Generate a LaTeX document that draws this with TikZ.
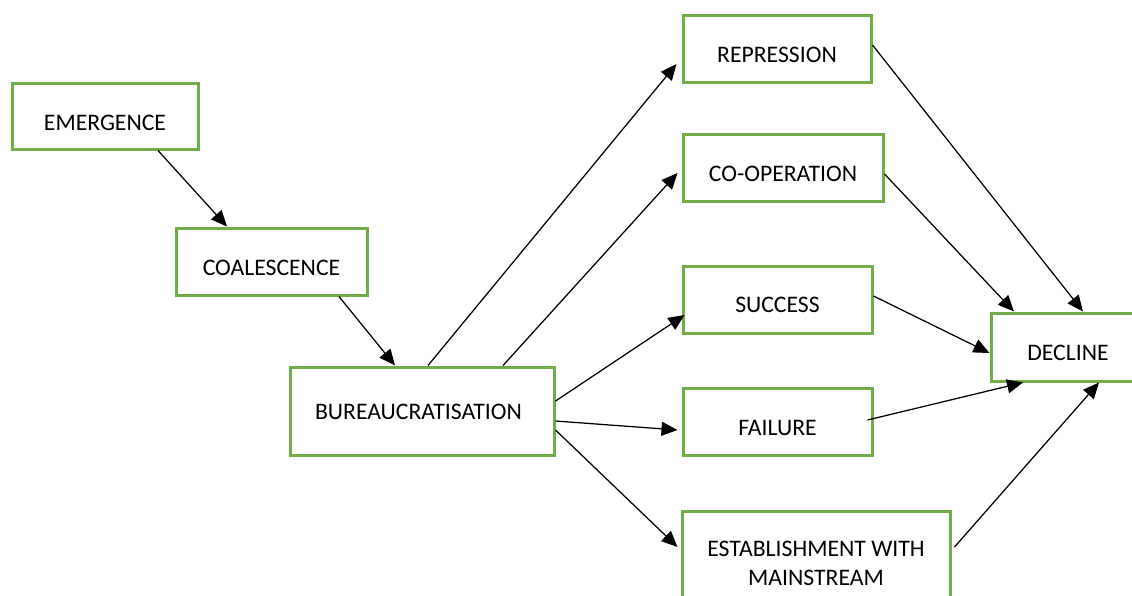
\documentclass[tikz,border=0pt]{standalone}
\usepackage{fontspec}
\setmainfont{Carlito}
\usetikzlibrary{arrows.meta}
\definecolor{boxgreen}{HTML}{70AD47}
\begin{document}
\begin{tikzpicture}[x=1pt,y=-1pt,
  box/.style={draw=boxgreen, line width=3pt, fill=white, rectangle,
    inner sep=0pt, font=\fontsize{23.7}{29}\selectfont},
  capline/.style={text height=#1, text depth=0pt},
  flow/.style={-{Triangle[length=16pt,width=14pt]}, line width=1.25pt, black}]
\useasboundingbox (0,0) rectangle (1132,595);
\clip (0,0) rectangle (1132,595);

% stages of the movement life cycle
\node[box, capline=29pt, minimum width=186pt, minimum height=66pt] (em) at (105,116) {EMERGENCE};
\node[box, capline=28pt, minimum width=191pt, minimum height=67pt] (co) at (271.5,261.5) {COALESCENCE};
\node[box, capline=17pt, minimum width=264pt, minimum height=88pt] (bu) at (422,411) {BUREAUCRATISATION\hspace*{7pt}};

% possible outcomes
\node[box, capline=28pt, minimum width=188pt, minimum height=67pt] (rep) at (777,48.5) {REPRESSION};
\node[box, capline=28pt, minimum width=200pt, minimum height=67pt] (coop) at (783,167.5) {CO-OPERATION};
\node[box, capline=26pt, minimum width=189pt, minimum height=67pt] (suc) at (777.5,299.5) {SUCCESS};
\node[box, capline=28pt, minimum width=189pt, minimum height=67pt] (fail) at (777.5,421.5) {FAILURE};
\node[box, align=center, minimum width=268pt, minimum height=105pt] (est) at (816,563.5) {ESTABLISHMENT WITH\\MAINSTREAM};

% final stage
\node[box, capline=27pt, minimum width=154pt, minimum height=68pt] (dec) at (1068,347) {DECLINE};

% sequence of stages
\draw[flow] ([shift={(53,0)}]em.south) -- ([shift={(-44.5,0)}]co.north);
\draw[flow] ([shift={(67.5,0)}]co.south) -- ([shift={(-27,0)}]bu.north);

% branching from bureaucratisation
\draw[flow] ([shift={(6,0)}]bu.north) -- ([shift={(-5,15.5)}]rep.west);
\draw[flow] ([shift={(81,0)}]bu.north) -- ([shift={(-4,5.5)}]coop.west);
\draw[flow] ([shift={(0,-10)}]bu.east) -- ([shift={(3,15.5)}]suc.west);
\draw[flow] ([shift={(0,10)}]bu.east) -- ([shift={(-4,8.5)}]fail.west);
\draw[flow] ([shift={(0,19)}]bu.east) -- ([shift={(-3,-16.5)}]est.west);

% every outcome leads to decline
\draw[flow] ([shift={(0,-3.5)}]rep.east) -- ([shift={(15,0)}]dec.north);
\draw[flow] ([shift={(0,6.5)}]coop.east) -- ([shift={(-54,0)}]dec.north);
\draw[flow] ([shift={(0,-3.5)}]suc.east) -- ([shift={(0,6)}]dec.west);
\draw[flow] ([shift={(-6,-1.5)}]fail.east) -- ([shift={(-45,0)}]dec.south);
\draw[flow] ([shift={(3,-16.5)}]est.east) -- ([shift={(31,0)}]dec.south);
\end{tikzpicture}
\end{document}
